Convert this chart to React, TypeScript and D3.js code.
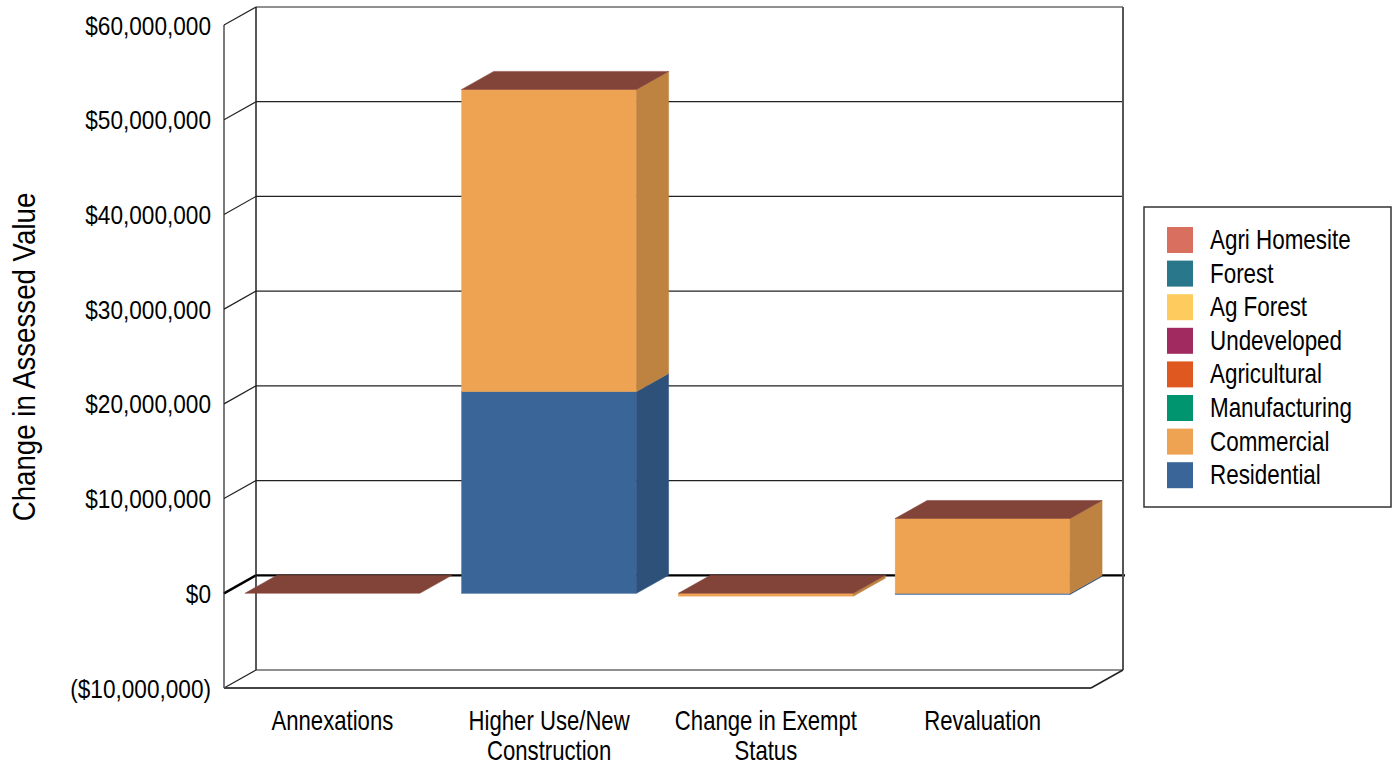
import React from 'react';
import * as d3 from 'd3';

// ---------- data ----------
const categories = ["Annexations", "Higher Use/New Construction", "Change in Exempt Status", "Revaluation"];
const categoryLines = [["Annexations"], ["Higher Use/New", "Construction"], ["Change in Exempt", "Status"], ["Revaluation"]];

const seriesNames = ["Residential", "Commercial", "Manufacturing", "Agricultural", "Undeveloped", "Ag Forest", "Forest", "Agri Homesite"];
const seriesColors = ["#3a6599", "#eea352", "#00946f", "#df581f", "#a12b60", "#fecb5e", "#28778b", "#d96f5f"];

const residential = [0, 21300000, 0, -120000];
const commercial = [0, 31900000, -300000, 7900000];
const manufacturing = [0, 0, 0, 0];
const agricultural = [0, 0, 0, 0];
const undeveloped = [0, 0, 0, 0];
const agForest = [0, 0, 0, 0];
const forest = [0, 0, 0, 0];
const agriHomesite = [0, 0, 0, 0];
const seriesValues = [residential, commercial, manufacturing, agricultural, undeveloped, agForest, forest, agriHomesite];

const yTicks = [-10000000, 0, 10000000, 20000000, 30000000, 40000000, 50000000, 60000000];

// ---------- layout ----------
const W = 1398, H = 765;
const DX = 32, DY = 18;
const FONT = "'Liberation Sans', Arial, sans-serif";

const x = d3.scaleBand<string>().domain(categories).range([224, 1091]).paddingInner(0.193).paddingOuter(0.0965);
const y = d3.scaleLinear().domain([-10000000, 60000000]).range([688, 25]);

const fmt = d3.format("$,.0f");
const tickLabel = (v: number) => (v < 0 ? `(${fmt(-v)})` : fmt(v));

const side = (c: string) => d3.color(c)!.darker(0.63).formatHex();
const topC = (c: string) => d3.color(c)!.darker(1.43).formatHex();

// narrow text helper (simulates a condensed face)
function NText(props: { x: number; y: number; sx: number; size: number; anchor?: string; rotate?: number; children: React.ReactNode }) {
  const { x: tx, y: ty, sx, size, anchor, rotate, children } = props;
  const tr = `translate(${tx},${ty})${rotate ? ` rotate(${rotate})` : ''} scale(${sx},1)`;
  return (
    <text transform={tr} textAnchor={anchor || 'start'} fontSize={size} fill="#000">{children}</text>
  );
}

export default function App() {
  const x0 = 224, x1 = 1091;
  const yTop = y(60000000), yBot = y(-10000000);

  const bars = categories.map((cat, ci) => {
    const bx0 = x(cat)!;
    const bx1 = bx0 + x.bandwidth();
    let pos = 0, neg = 0;
    const segs: { lo: number; hi: number; color: string; neg: boolean }[] = [];
    seriesValues.forEach((vals, si) => {
      const v = vals[ci];
      if (v >= 0) { segs.push({ lo: pos, hi: pos + v, color: seriesColors[si], neg: false }); pos += v; }
      else { segs.push({ lo: neg + v, hi: neg, color: seriesColors[si], neg: true }); neg += v; }
    });
    const ordered = [...segs.filter(s => s.neg), ...segs.filter(s => !s.neg)];
    const topColor = topC(seriesColors[seriesColors.length - 1]);
    const ty = y(pos);
    return (
      <g key={cat}>
        {ordered.map((s, k) => {
          const yt = y(s.hi), yb = y(s.lo);
          if (yb - yt <= 0) return null;
          return (
            <g key={k}>
              <rect x={bx0} y={yt} width={bx1 - bx0} height={yb - yt} fill={s.color} stroke={s.color} strokeWidth={0.5} />
              <polygon points={`${bx1},${yt} ${bx1 + DX},${yt - DY} ${bx1 + DX},${yb - DY} ${bx1},${yb}`} fill={side(s.color)} stroke={side(s.color)} strokeWidth={0.5} />
            </g>
          );
        })}
        <polygon points={`${bx0},${ty} ${bx0 + DX},${ty - DY} ${bx1 + DX},${ty - DY} ${bx1},${ty}`} fill={topColor} stroke={topColor} strokeWidth={0.5} />
      </g>
    );
  });

  return (
    <svg width={W} height={H} style={{ position: 'absolute', left: 0, top: 0, background: '#fff' }} fontFamily={FONT}>
      <rect x={0} y={0} width={W} height={H} fill="#fff" />
      {/* back wall gridlines and left wall diagonals */}
      {yTicks.map(t => {
        const yy = y(t);
        const zero = t === 0;
        return (
          <g key={t}>
            <line x1={x0 + DX} x2={x1 + DX + (zero ? 2 : 0)} y1={yy - DY} y2={yy - DY} stroke={zero ? '#000' : '#222'} strokeWidth={zero ? 2.2 : 1.2} />
            <line x1={x0} x2={x0 + DX} y1={yy} y2={yy - DY} stroke={zero ? '#000' : '#222'} strokeWidth={zero ? 2.5 : 1.2} />
          </g>
        );
      })}
      {/* walls */}
      <line x1={x0} x2={x0} y1={yTop} y2={yBot} stroke="#222" strokeWidth={1.2} />
      <line x1={x0 + DX} x2={x0 + DX} y1={yTop - DY} y2={yBot - DY} stroke="#222" strokeWidth={1.5} />
      <line x1={x1 + DX} x2={x1 + DX} y1={yTop - DY} y2={yBot - DY} stroke="#555" strokeWidth={2} />
      <line x1={x0} x2={x1} y1={yBot} y2={yBot} stroke="#444" strokeWidth={2} />
      <line x1={x1} x2={x1 + DX} y1={yBot} y2={yBot - DY} stroke="#222" strokeWidth={1.5} />

      {bars}

      {/* y tick labels */}
      {yTicks.map(t => (
        <NText key={t} x={211} y={y(t) + 9.5} sx={0.87} size={26} anchor="end">{tickLabel(t)}</NText>
      ))}

      {/* y title */}
      <NText x={35} y={357} rotate={-90} sx={0.865} size={32} anchor="middle">Change in Assessed Value</NText>

      {/* x labels */}
      {categories.map((cat, ci) => (
        <g key={cat}>
          {categoryLines[ci].map((ln, li) => (
            <NText key={li} x={x(cat)! + x.bandwidth() / 2} y={730 + li * 30} sx={0.82} size={27} anchor="middle">{ln}</NText>
          ))}
        </g>
      ))}

      {/* legend */}
      <rect x={1144} y={207} width={247} height={300} fill="#fff" stroke="#333" strokeWidth={1.5} />
      {[...seriesNames].reverse().map((name, i) => {
        const si = seriesNames.length - 1 - i;
        return (
          <g key={name}>
            <rect x={1167} y={227 + i * 33.6} width={26} height={26} fill={seriesColors[si]} />
            <NText x={1210} y={249 + i * 33.6} sx={0.83} size={27}>{name}</NText>
          </g>
        );
      })}
    </svg>
  );
}
